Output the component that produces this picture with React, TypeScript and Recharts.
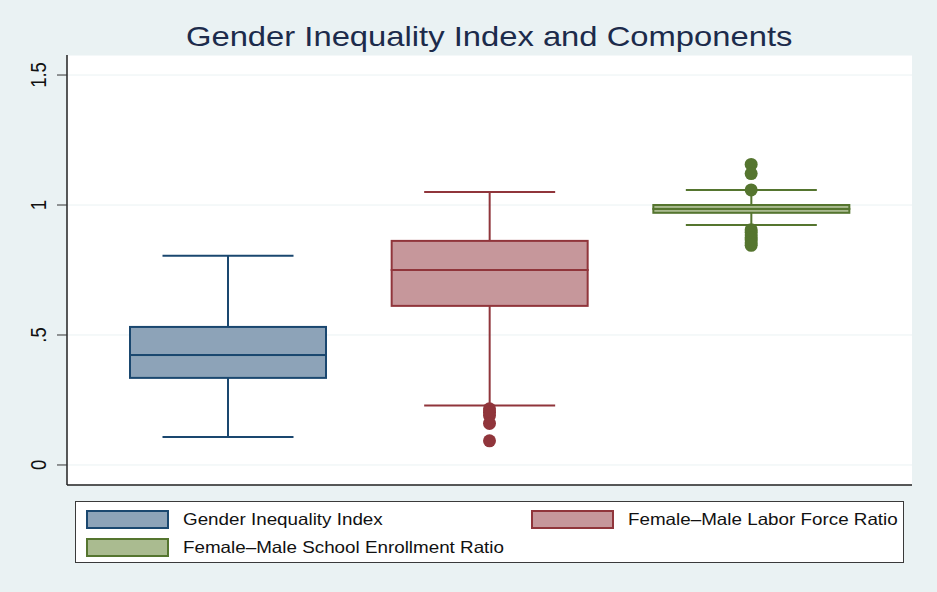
import { Bar, CartesianGrid, ComposedChart, Legend, Scatter, XAxis, YAxis } from "recharts";

const CATEGORIES = [
  "Gender Inequality Index",
  "Female–Male Labor Force Ratio",
  "Female–Male School Enrollment Ratio",
];
const KEYS = ["gii", "lfr", "ser"];

// box plot stats
const MIN = [0.108, 0.229, 0.923];
const Q1 = [0.335, 0.612, 0.97];
const MEDIAN = [0.423, 0.75, 0.985];
const Q3 = [0.531, 0.862, 1.0];
const MAX = [0.805, 1.05, 1.058];

const OUTLIERS = [
  [],
  [0.216, 0.203, 0.19, 0.16, 0.093],
  [1.156, 1.121, 1.058, 0.905, 0.895, 0.885, 0.875, 0.865, 0.855, 0.845],
];

const Y_TICKS = [0, 0.5, 1, 1.5];
const Y_TICK_LABELS = ["0", ".5", "1", "1.5"];

const STROKES = ["#1A476F", "#90353B", "#55752F"];
const FILLS = ["#8DA3B8", "#C6979B", "#AABB90"];
const CAP = 131;
const FONT = '"Liberation Sans", Arial, sans-serif';

const rows = KEYS.map((name, i) => ({
  name,
  base: MIN[i],
  lowWhisker: Q1[i] - MIN[i],
  lowBox: MEDIAN[i] - Q1[i],
  highBox: Q3[i] - MEDIAN[i],
  highWhisker: MAX[i] - Q3[i],
}));

const idxOf = (props: any) => {
  const i = KEYS.indexOf(props?.payload?.name);
  return i >= 0 ? i : props.index ?? 0;
};

const whisker = (end: "top" | "bottom") => (props: any) => {
  const { x, y, width, height } = props;
  const color = STROKES[idxOf(props)];
  const cx = x + width / 2;
  const capY = end === "top" ? y : y + height;
  return (
    <g>
      <line x1={cx} x2={cx} y1={y} y2={y + height} stroke={color} strokeWidth={2} />
      <line x1={cx - CAP / 2} x2={cx + CAP / 2} y1={capY} y2={capY} stroke={color} strokeWidth={2} />
    </g>
  );
};

const boxPart = (props: any) => {
  const { x, y, width, height } = props;
  const i = idxOf(props);
  return (
    <rect x={x} y={y} width={width} height={height} fill={FILLS[i]} stroke={STROKES[i]} strokeWidth={2} />
  );
};

const YTick = ({ x, y, payload }: any) => {
  const label = Y_TICK_LABELS[Y_TICKS.indexOf(payload.value)];
  return (
    <text
      transform={`translate(${x - 9}, ${y}) rotate(-90) scale(1, 1.18)`}
      textAnchor="middle"
      fontSize={18.5}
      fontFamily={FONT}
      fill="#111"
    >
      {label}
    </text>
  );
};

const LegendBox = () => {
  const pos = [
    { left: 10, top: 8 },
    { left: 455, top: 8 },
    { left: 10, top: 36 },
  ];
  return (
    <div
      style={{
        position: "relative",
        width: 829,
        height: 62,
        boxSizing: "border-box",
        border: "1px solid #3a3a3a",
        background: "#fff",
      }}
    >
      {CATEGORIES.map((c, i) => (
        <div key={c} style={{ position: "absolute", left: pos[i].left, top: pos[i].top, height: 19 }}>
          <div
            style={{
              position: "absolute",
              left: 0,
              top: 0,
              width: 83,
              height: 19,
              boxSizing: "border-box",
              background: FILLS[i],
              border: `2px solid ${STROKES[i]}`,
            }}
          />
          <div
            style={{
              position: "absolute",
              left: 97,
              top: 0,
              lineHeight: "19px",
              fontSize: 16.5,
              fontFamily: FONT,
              color: "#111",
              whiteSpace: "nowrap",
              transform: "scaleX(1.14)",
              transformOrigin: "left center",
            }}
          >
            {c}
          </div>
        </div>
      ))}
    </div>
  );
};

export default function App() {
  return (
    <div
      style={{
        position: "fixed",
        left: 0,
        top: 0,
        width: 937,
        height: 592,
        background: "#EAF2F3",
        overflow: "hidden",
      }}
    >
      <div
        style={{
          position: "absolute",
          left: 0,
          width: 979,
          top: 23,
          textAlign: "center",
          fontSize: 28,
          lineHeight: "28px",
          fontFamily: FONT,
          color: "#1C2B4B",
          whiteSpace: "nowrap",
        }}
      >
        <span style={{ display: "inline-block", transform: "scaleX(1.17)" }}>
          Gender Inequality Index and Components
        </span>
      </div>
      <ComposedChart
        width={937}
        height={592}
        data={rows}
        margin={{ top: 55, right: 25, bottom: 106, left: 7 }}
      >
        <CartesianGrid vertical={false} stroke="#EAF2F3" fill="#fff" />
        <XAxis
          dataKey="name"
          type="category"
          allowDuplicatedCategory={false}
          padding={{ left: 30, right: 30 }}
          tick={false}
          tickLine={false}
          height={1}
          axisLine={{ stroke: "#222", strokeWidth: 1.5 }}
        />
        <YAxis
          type="number"
          domain={[-0.077, 1.577]}
          ticks={Y_TICKS}
          allowDataOverflow
          width={60}
          tickSize={10}
          tickLine={{ stroke: "#333" }}
          axisLine={{ stroke: "#222", strokeWidth: 1.5 }}
          tick={<YTick />}
        />
        <Bar dataKey="base" stackId="a" barSize={196} shape={() => <g />} isAnimationActive={false} />
        <Bar dataKey="lowWhisker" stackId="a" barSize={196} shape={whisker("bottom")} isAnimationActive={false} />
        <Bar dataKey="lowBox" stackId="a" barSize={196} shape={boxPart} isAnimationActive={false} />
        <Bar dataKey="highBox" stackId="a" barSize={196} shape={boxPart} isAnimationActive={false} />
        <Bar dataKey="highWhisker" stackId="a" barSize={196} shape={whisker("top")} isAnimationActive={false} />
        {OUTLIERS.map((vals, i) => (
          <Scatter
            key={KEYS[i]}
            data={vals.map((v) => ({ name: KEYS[i], value: v }))}
            dataKey="value"
            isAnimationActive={false}
            shape={(p: any) => <circle cx={p.cx} cy={p.cy} r={6.5} fill={STROKES[i]} />}
          />
        ))}
        <Legend
          layout="vertical"
          verticalAlign="middle"
          align="center"
          wrapperStyle={{ left: 75, top: 501, width: 829, height: 62 }}
          content={() => <LegendBox />}
        />
      </ComposedChart>
    </div>
  );
}
